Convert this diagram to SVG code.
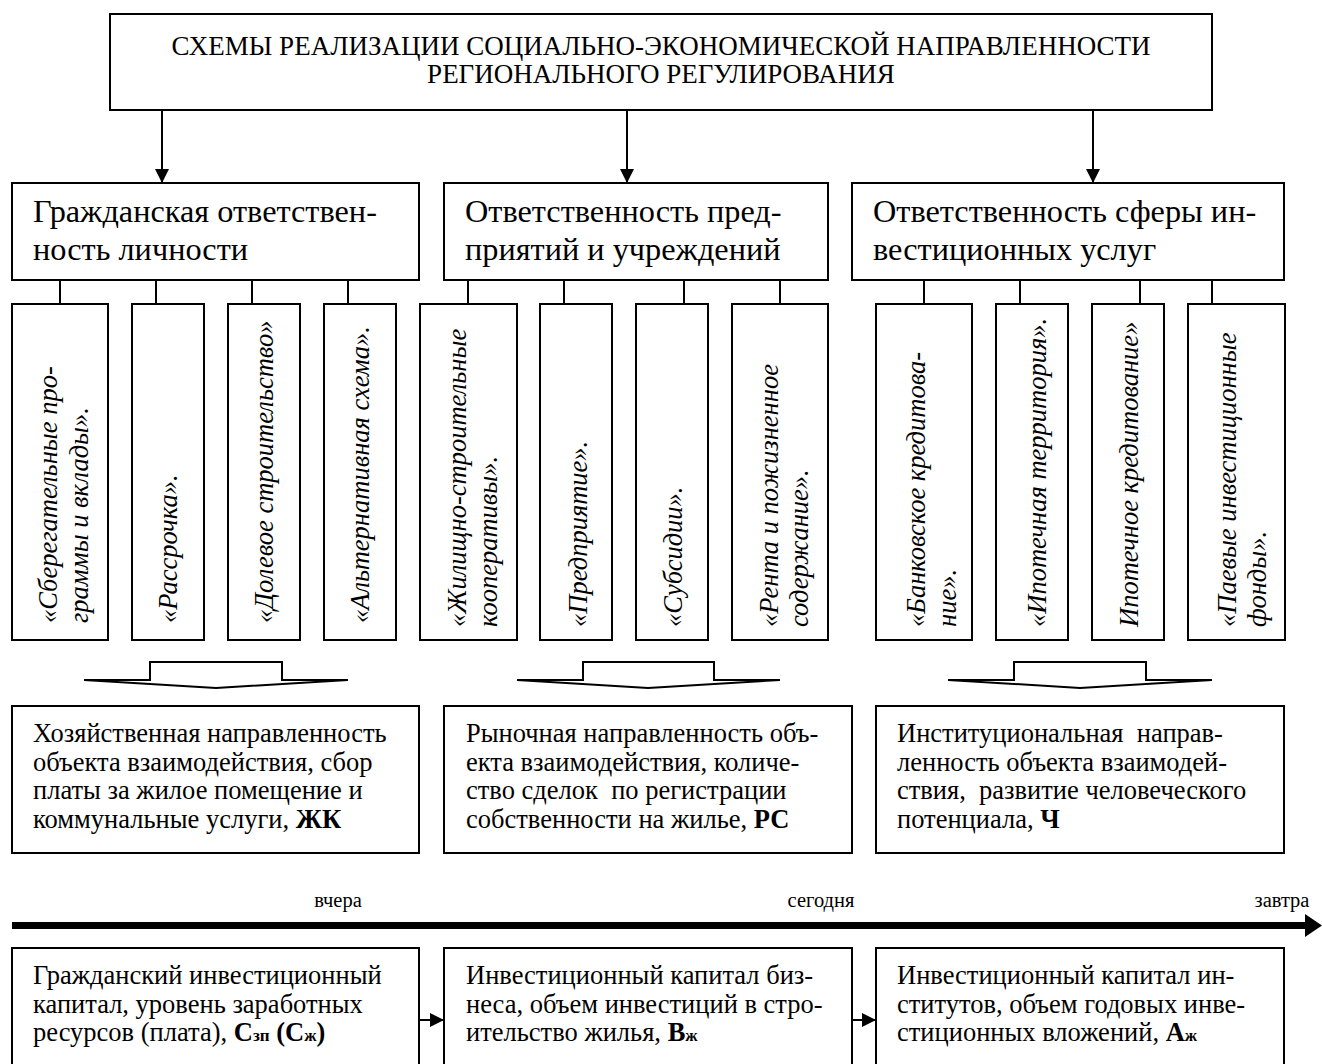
<svg xmlns="http://www.w3.org/2000/svg" width="1322" height="1064" viewBox="0 0 1322 1064">
<style>
.box{fill:#fff;stroke:#000;stroke-width:2}
.ln{stroke:#000;stroke-width:2;fill:none}
.t{font-family:"Liberation Serif","Times New Roman",serif;fill:#000}
.title{font-size:27px}
.h2{font-size:32.3px}
.v{font-size:26.5px;font-style:italic}
.b{font-size:26.5px}
.lab{font-size:20.5px}
.bold{font-weight:bold}
.sub{font-size:17px}
.hollow{fill:#fff;stroke:#000;stroke-width:2;stroke-linejoin:miter}
</style>
<defs>
<marker id="ah" markerWidth="14" markerHeight="14" refX="14" refY="7" orient="auto" markerUnits="userSpaceOnUse">
<path d="M0,0 L14,7 L0,14 Z" fill="#000"/>
</marker>
</defs>
<rect width="1322" height="1064" fill="#fff"/>

<g id="connectors">
<line class="ln" x1="162" y1="110" x2="162" y2="183" marker-end="url(#ah)"/>
<line class="ln" x1="627" y1="110" x2="627" y2="183" marker-end="url(#ah)"/>
<line class="ln" x1="1093" y1="110" x2="1093" y2="183" marker-end="url(#ah)"/>
<line class="ln" x1="60" y1="280" x2="60" y2="304"/>
<line class="ln" x1="156" y1="280" x2="156" y2="304"/>
<line class="ln" x1="252" y1="280" x2="252" y2="304"/>
<line class="ln" x1="348" y1="280" x2="348" y2="304"/>
<line class="ln" x1="468" y1="280" x2="468" y2="304"/>
<line class="ln" x1="564" y1="280" x2="564" y2="304"/>
<line class="ln" x1="684" y1="280" x2="684" y2="304"/>
<line class="ln" x1="780" y1="280" x2="780" y2="304"/>
<line class="ln" x1="924" y1="280" x2="924" y2="304"/>
<line class="ln" x1="1020" y1="280" x2="1020" y2="304"/>
<line class="ln" x1="1140" y1="280" x2="1140" y2="304"/>
<line class="ln" x1="1212" y1="280" x2="1212" y2="304"/>
<polygon class="hollow" points="150,662 282,662 282,680 348,680 216,688 84,680 150,680"/>
<polygon class="hollow" points="583,662 714,662 714,680 780,680 648,688 517,680 583,680"/>
<polygon class="hollow" points="1014,662 1146,662 1146,680 1212,680 1080,688 948,680 1014,680"/>
<line class="ln" x1="419" y1="1020" x2="444" y2="1020" marker-end="url(#ah)"/>
<line class="ln" x1="852" y1="1020" x2="876" y2="1020" marker-end="url(#ah)"/>
<rect x="12" y="922" width="1296" height="7" fill="#000"/>
<polygon points="1305,914 1322,925.5 1305,937" fill="#000"/>
</g>

<g id="title">
<rect class="box" x="110" y="14" width="1102" height="96"/>
<text class="t title" x="661" y="55" text-anchor="middle">СХЕМЫ РЕАЛИЗАЦИИ СОЦИАЛЬНО-ЭКОНОМИЧЕСКОЙ НАПРАВЛЕННОСТИ</text>
<text class="t title" x="661" y="83" text-anchor="middle">РЕГИОНАЛЬНОГО РЕГУЛИРОВАНИЯ</text>
</g>

<g id="resp1">
<rect class="box" x="12" y="183" width="407" height="97"/>
<text class="t h2" x="33" y="222">Гражданская ответствен-</text>
<text class="t h2" x="33" y="260">ность личности</text>
</g>
<g id="resp2">
<rect class="box" x="444" y="183" width="384" height="97"/>
<text class="t h2" x="465" y="222">Ответственность пред-</text>
<text class="t h2" x="465" y="260">приятий и учреждений</text>
</g>
<g id="resp3">
<rect class="box" x="852" y="183" width="432" height="97"/>
<text class="t h2" x="873" y="222">Ответственность сферы ин-</text>
<text class="t h2" x="873" y="260">вестиционных услуг</text>
</g>

<g id="s1"><rect class="box" x="12" y="304" width="96" height="336"/>
<text class="t v" transform="translate(57,623) rotate(-90)">«Сберегательные про-</text>
<text class="t v" transform="translate(88,623) rotate(-90)">граммы и вклады».</text></g>
<g id="s2"><rect class="box" x="132" y="304" width="72" height="336"/>
<text class="t v" transform="translate(177,623) rotate(-90)">«Рассрочка».</text></g>
<g id="s3"><rect class="box" x="228" y="304" width="72" height="336"/>
<text class="t v" transform="translate(273,623) rotate(-90)">«Долевое строительство»</text></g>
<g id="s4"><rect class="box" x="324" y="304" width="72" height="336"/>
<text class="t v" transform="translate(369,623) rotate(-90)">«Альтернативная схема».</text></g>
<g id="s5"><rect class="box" x="420" y="304" width="97" height="336"/>
<text class="t v" transform="translate(466,627) rotate(-90)">«Жилищно-строительные</text>
<text class="t v" transform="translate(497,627) rotate(-90)">кооперативы».</text></g>
<g id="s6"><rect class="box" x="540" y="304" width="72" height="336"/>
<text class="t v" transform="translate(587,627) rotate(-90)">«Предприятие».</text></g>
<g id="s7"><rect class="box" x="636" y="304" width="72" height="336"/>
<text class="t v" transform="translate(682,627) rotate(-90)">«Субсидии».</text></g>
<g id="s8"><rect class="box" x="732" y="304" width="96" height="336"/>
<text class="t v" transform="translate(778,627) rotate(-90)">«Рента и пожизненное</text>
<text class="t v" transform="translate(808,627) rotate(-90)">содержание».</text></g>
<g id="s9"><rect class="box" x="876" y="304" width="96" height="336"/>
<text class="t v" transform="translate(925,627) rotate(-90)">«Банковское кредитова-</text>
<text class="t v" transform="translate(956,627) rotate(-90)">ние».</text></g>
<g id="s10"><rect class="box" x="996" y="304" width="72" height="336"/>
<text class="t v" transform="translate(1046,627) rotate(-90)">«Ипотечная территория».</text></g>
<g id="s11"><rect class="box" x="1092" y="304" width="72" height="336"/>
<text class="t v" transform="translate(1138,627) rotate(-90)">Ипотечное кредитование»</text></g>
<g id="s12"><rect class="box" x="1188" y="304" width="97" height="336"/>
<text class="t v" transform="translate(1236,627) rotate(-90)">«Паевые инвестиционные</text>
<text class="t v" transform="translate(1266,627) rotate(-90)">фонды».</text></g>

<g id="dir1"><rect class="box" x="12" y="706" width="407" height="147"/>
<text class="t b" x="33" y="742">Хозяйственная направленность</text>
<text class="t b" x="33" y="771">объекта взаимодействия, сбор</text>
<text class="t b" x="33" y="799">платы за жилое помещение и</text>
<text class="t b" x="33" y="828">коммунальные услуги, <tspan class="bold">ЖК</tspan></text></g>
<g id="dir2"><rect class="box" x="444" y="706" width="408" height="147"/>
<text class="t b" x="466" y="742">Рыночная направленность объ-</text>
<text class="t b" x="466" y="771">екта взаимодействия, количе-</text>
<text class="t b" x="466" y="799" xml:space="preserve">ство сделок  по регистрации</text>
<text class="t b" x="466" y="828">собственности на жилье, <tspan class="bold">РС</tspan></text></g>
<g id="dir3"><rect class="box" x="876" y="706" width="408" height="147"/>
<text class="t b" x="897" y="742" xml:space="preserve">Институциональная  направ-</text>
<text class="t b" x="897" y="771">ленность объекта взаимодей-</text>
<text class="t b" x="897" y="799" xml:space="preserve">ствия,  развитие человеческого</text>
<text class="t b" x="897" y="828">потенциала, <tspan class="bold">Ч</tspan></text></g>

<g id="timeline-labels">
<text class="t lab" x="338" y="907" text-anchor="middle">вчера</text>
<text class="t lab" x="821" y="907" text-anchor="middle">сегодня</text>
<text class="t lab" x="1282" y="907" text-anchor="middle">завтра</text>
</g>

<g id="cap1"><rect class="box" x="12" y="948" width="407" height="130"/>
<text class="t b" x="33" y="984">Гражданский инвестиционный</text>
<text class="t b" x="33" y="1013">капитал, уровень заработных</text>
<text class="t b" x="33" y="1041">ресурсов (плата), <tspan class="bold">С<tspan class="sub">зп</tspan> (С<tspan class="sub">ж</tspan>)</tspan></text></g>
<g id="cap2"><rect class="box" x="444" y="948" width="408" height="130"/>
<text class="t b" x="466" y="984">Инвестиционный капитал биз-</text>
<text class="t b" x="466" y="1013">неса, объем инвестиций в стро-</text>
<text class="t b" x="466" y="1041">ительство жилья, <tspan class="bold">В<tspan class="sub">ж</tspan></tspan></text></g>
<g id="cap3"><rect class="box" x="876" y="948" width="408" height="130"/>
<text class="t b" x="897" y="984">Инвестиционный капитал ин-</text>
<text class="t b" x="897" y="1013">ститутов, объем годовых инве-</text>
<text class="t b" x="897" y="1041">стиционных вложений, <tspan class="bold">А<tspan class="sub">ж</tspan></tspan></text></g>
</svg>
